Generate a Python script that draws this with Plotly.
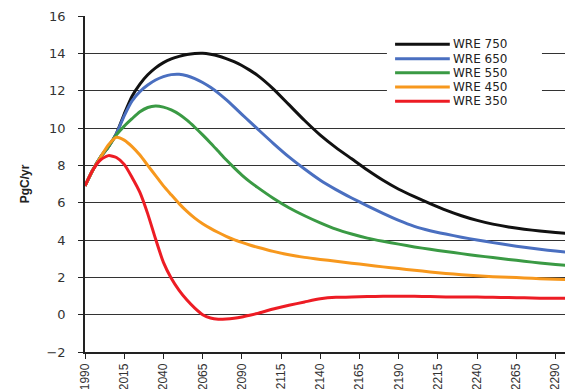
import plotly.graph_objects as go

years = [1990, 1995, 2000, 2005, 2010, 2015, 2020, 2025, 2030, 2035, 2040, 2045,
         2050, 2055, 2060, 2065, 2070, 2075, 2080, 2085, 2090, 2095, 2100, 2110, 2120,
         2130, 2140, 2150, 2160, 2170, 2180, 2190, 2200, 2210, 2220, 2230, 2240,
         2250, 2260, 2270, 2280, 2290, 2300]

wre750 = [6.9, 7.75, 8.45, 9.0, 9.7, 10.75, 11.7, 12.35, 12.85, 13.22, 13.5, 13.7,
          13.84, 13.94, 13.99, 14.0, 13.95, 13.86, 13.72, 13.55, 13.35, 13.1, 12.82, 12.1, 11.25,
          10.4, 9.62, 8.95, 8.35, 7.75, 7.2, 6.72, 6.32, 5.95, 5.6, 5.3, 5.05,
          4.85, 4.7, 4.58, 4.48, 4.4, 4.33]

wre650 = [6.9, 7.75, 8.45, 9.0, 9.7, 10.65, 11.45, 11.95, 12.3, 12.57, 12.75, 12.86,
          12.88, 12.8, 12.65, 12.44, 12.18, 11.87, 11.52, 11.13, 10.73, 10.34, 9.95, 9.18, 8.45,
          7.8, 7.2, 6.7, 6.25, 5.83, 5.43, 5.05, 4.73, 4.5, 4.32, 4.15, 4.0,
          3.86, 3.73, 3.61, 3.5, 3.41, 3.33]

wre550 = [6.9, 7.75, 8.45, 9.0, 9.63, 10.1, 10.5, 10.87, 11.1, 11.18, 11.12, 10.97,
          10.74, 10.42, 10.04, 9.63, 9.2, 8.75, 8.3, 7.88, 7.48, 7.13, 6.82, 6.24, 5.73,
          5.3, 4.92, 4.58, 4.32, 4.1, 3.93, 3.78, 3.63, 3.5, 3.38, 3.27, 3.16,
          3.06, 2.96, 2.86, 2.77, 2.69, 2.62]

wre450 = [6.9, 7.75, 8.45, 9.1, 9.5, 9.35, 9.0, 8.55, 8.0, 7.45, 6.9, 6.42,
          5.95, 5.53, 5.17, 4.87, 4.62, 4.4, 4.2, 4.02, 3.87, 3.73, 3.61, 3.39, 3.21,
          3.07, 2.96, 2.86, 2.76, 2.66, 2.56, 2.47, 2.38, 2.29, 2.21, 2.14, 2.08,
          2.03, 2.0, 1.97, 1.93, 1.9, 1.88]

wre350 = [6.9, 7.75, 8.3, 8.52, 8.42, 8.05, 7.35, 6.55, 5.4, 4.05, 2.8, 1.95,
          1.3, 0.78, 0.35, 0.0, -0.18, -0.24, -0.23, -0.19, -0.12, -0.03, 0.07, 0.3, 0.5,
          0.68, 0.85, 0.93, 0.94, 0.97, 0.98, 0.98, 0.98, 0.97, 0.95, 0.94, 0.94,
          0.93, 0.92, 0.9, 0.88, 0.88, 0.87]

series_names = ["WRE 750", "WRE 650", "WRE 550", "WRE 450", "WRE 350"]
series_values = [wre750, wre650, wre550, wre450, wre350]
colors = ["#111111", "#4A6FC0", "#3A9A44", "#F7981D", "#ED1C24"]

x_ticks = list(range(1990, 2291, 25))
y_ticks = list(range(-2, 17, 2))

fig = go.Figure()
for name, vals, col in zip(series_names, series_values, colors):
    fig.add_trace(go.Scatter(x=years, y=vals, name=name, mode="lines", showlegend=False,
                             line=dict(color=col, width=3, shape="spline", smoothing=0.6)))

# compact legend (white box, line samples, labels)
shapes = [dict(type="rect", xref="paper", yref="paper", x0=0.629, x1=0.952, y0=0.72, y1=0.9435,
               fillcolor="white", line=dict(width=0), layer="above")]
annotations = []
row_y = [0.9158, 0.8729, 0.8313, 0.7887, 0.7461]
for name, col, ry in zip(series_names, colors, row_y):
    shapes.append(dict(type="line", xref="paper", yref="paper", x0=0.646, x1=0.760, y0=ry, y1=ry,
                       line=dict(color=col, width=3), layer="above"))
    annotations.append(dict(xref="paper", yref="paper", x=0.764, y=ry, xanchor="left",
                            yanchor="middle", text=name, showarrow=False, borderpad=0,
                            font=dict(family="DejaVu Sans, sans-serif", size=12, color="#222")))

fig.update_layout(
    width=565, height=389,
    margin=dict(l=85, r=0, t=16, b=37),
    paper_bgcolor="white", plot_bgcolor="white",
    font=dict(family="Liberation Sans, Arial, sans-serif", color="#333333"),
    showlegend=False,
    shapes=shapes, annotations=annotations,
    xaxis=dict(range=[1990, 2296], tickvals=x_ticks, ticktext=[str(v) for v in x_ticks],
               tickangle=-90, ticks="outside", ticklen=5, tickcolor="#222",
               showline=True, linecolor="#222", linewidth=1.5,
               showgrid=False, zeroline=False, automargin=False,
               tickfont=dict(family="Liberation Sans, Arial, sans-serif", size=12, color="#333")),
    yaxis=dict(range=[-2, 16], tickvals=y_ticks, ticks="outside", ticklen=5, tickcolor="#222",
               showline=True, linecolor="#222", linewidth=1.5,
               showgrid=True, gridcolor="#333", gridwidth=1, zeroline=False,
               automargin=False, ticklabelstandoff=10,
               tickfont=dict(family="DejaVu Sans, sans-serif", size=13, color="#333"),
               title=dict(text="<b>PgC/yr</b>",
                          font=dict(family="Liberation Sans, Arial, sans-serif", size=12, color="#222"),
                          standoff=14)),
)

fig.write_html("out.html", config={"displayModeBar": False},
               post_script="document.body.style.margin='0';")
